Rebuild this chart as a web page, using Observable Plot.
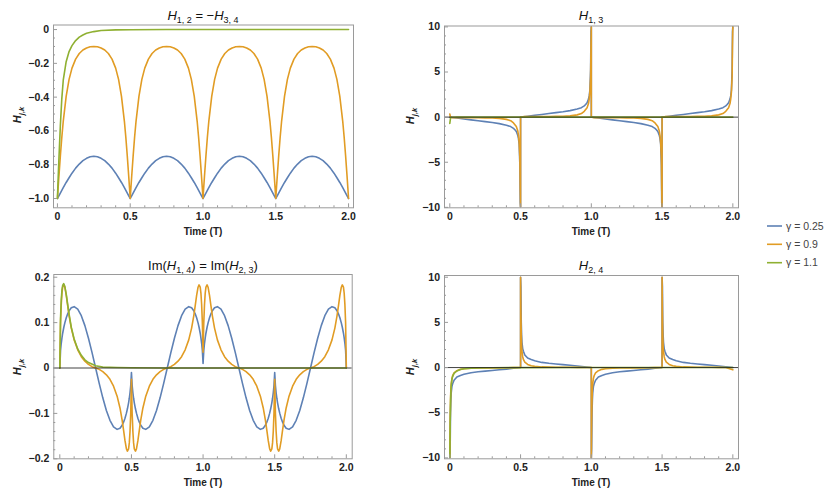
<!DOCTYPE html>
<html><head><meta charset="utf-8">
<script src="https://cdn.jsdelivr.net/npm/d3@7"></script>
<script src="https://cdn.jsdelivr.net/npm/@observablehq/plot@0.6"></script>
<style>
body{margin:0;background:#fff;}
#root{position:relative;width:830px;height:493px;overflow:hidden;font-family:"Liberation Sans",Arial,sans-serif;}
#root svg{position:absolute;}
</style></head><body><div id="root"></div>
<script>
// ---------- series legend ----------
const gammaLabels = ["γ = 0.25", "γ = 0.9", "γ = 1.1"];
const seriesColors = ["#5E81B5", "#E19C24", "#8FB032"];

// ---------- tick values & labels ----------
const xTicks = [0, 0.5, 1, 1.5, 2];
const xTickLabels = ["0", "0.5", "1.0", "1.5", "2.0"];
const xMinor = [0.1,0.2,0.3,0.4,0.6,0.7,0.8,0.9,1.1,1.2,1.3,1.4,1.6,1.7,1.8,1.9];
const y1Ticks = [0, -0.2, -0.4, -0.6, -0.8, -1];
const y1TickLabels = ["0", "−0.2", "−0.4", "−0.6", "−0.8", "−1.0"];
const y1Minor = [-0.05,-0.1,-0.15,-0.25,-0.3,-0.35,-0.45,-0.5,-0.55,-0.65,-0.7,-0.75,-0.85,-0.9,-0.95];
const y10Ticks = [-10, -5, 0, 5, 10];
const y10TickLabels = ["−10", "−5", "0", "5", "10"];
const y10Minor = [-9,-8,-7,-6,-4,-3,-2,-1,1,2,3,4,6,7,8,9];
const y3Ticks = [-0.2, -0.1, 0, 0.1, 0.2];
const y3TickLabels = ["−0.2", "−0.1", "0", "0.1", "0.2"];
const y3Minor = [-0.18,-0.16,-0.14,-0.12,-0.08,-0.06,-0.04,-0.02,0.02,0.04,0.06,0.08,0.12,0.14,0.16,0.18];

// ---------- panel 1 : H12 = -H34 ----------
const t1 = [0,.005,.01,.02,.03,.04,.06,.08,.1,.125,.15,.175,.2,.225,.25,.275,.3,.325,.35,.375,.4,.42,.44,.46,.47,.48,.49,.495,
.5,.505,.51,.52,.53,.54,.56,.58,.6,.625,.65,.675,.7,.725,.75,.775,.8,.825,.85,.875,.9,.92,.94,.96,.97,.98,.99,.995,
1,1.005,1.01,1.02,1.03,1.04,1.06,1.08,1.1,1.125,1.15,1.175,1.2,1.225,1.25,1.275,1.3,1.325,1.35,1.375,1.4,1.42,1.44,1.46,1.47,1.48,1.49,1.495,
1.5,1.505,1.51,1.52,1.53,1.54,1.56,1.58,1.6,1.625,1.65,1.675,1.7,1.725,1.75,1.775,1.8,1.825,1.85,1.875,1.9,1.92,1.94,1.96,1.97,1.98,1.99,1.995,
2];
const p1Blue = [-1,-.992,-.984,-.968,-.952,-.936,-.905,-.877,-.85,-.82,-.796,-.776,-.762,-.753,-.75,-.753,-.762,-.776,-.796,-.82,-.85,-.877,-.905,-.936,-.952,-.968,-.984,-.992,
-1,-.992,-.984,-.968,-.952,-.936,-.905,-.877,-.85,-.82,-.796,-.776,-.762,-.753,-.75,-.753,-.762,-.776,-.796,-.82,-.85,-.877,-.905,-.936,-.952,-.968,-.984,-.992,
-1,-.992,-.984,-.968,-.952,-.936,-.905,-.877,-.85,-.82,-.796,-.776,-.762,-.753,-.75,-.753,-.762,-.776,-.796,-.82,-.85,-.877,-.905,-.936,-.952,-.968,-.984,-.992,
-1,-.992,-.984,-.968,-.952,-.936,-.905,-.877,-.85,-.82,-.796,-.776,-.762,-.753,-.75,-.753,-.762,-.776,-.796,-.82,-.85,-.877,-.905,-.936,-.952,-.968,-.984,-.992,
-1];
const p1Orange = [-1,-.935,-.871,-.75,-.639,-.543,-.395,-.295,-.228,-.175,-.142,-.121,-.109,-.102,-.1,-.102,-.109,-.121,-.142,-.175,-.228,-.295,-.395,-.543,-.639,-.75,-.871,-.935,
-1,-.935,-.871,-.75,-.639,-.543,-.395,-.295,-.228,-.175,-.142,-.121,-.109,-.102,-.1,-.102,-.109,-.121,-.142,-.175,-.228,-.295,-.395,-.543,-.639,-.75,-.871,-.935,
-1,-.935,-.871,-.75,-.639,-.543,-.395,-.295,-.228,-.175,-.142,-.121,-.109,-.102,-.1,-.102,-.109,-.121,-.142,-.175,-.228,-.295,-.395,-.543,-.639,-.75,-.871,-.935,
-1,-.935,-.871,-.75,-.639,-.543,-.395,-.295,-.228,-.175,-.142,-.121,-.109,-.102,-.1,-.102,-.109,-.121,-.142,-.175,-.228,-.295,-.395,-.543,-.639,-.75,-.871,-.935,
-1];
const t1Green = [0,.005,.01,.02,.03,.04,.06,.08,.1,.125,.15,.175,.2,.25,.3,.4,.5,.75,1,1.5,2];
const p1Green = [-1,-.88,-.77,-.57,-.41,-.3,-.19,-.13,-.095,-.065,-.045,-.032,-.022,-.012,-.006,-.002,-.001,0,0,0,0];

// ---------- panel 2 : H13 ----------
const t2 = [0,.005,.01,.02,.05,.1,.15,.2,.25,.3,.35,.4,.43,.45,.46,.47,.48,.485,.49,.495,.4975,.5,
.5,.505,.51,.52,.55,.6,.65,.7,.75,.8,.85,.9,.93,.95,.96,.97,.98,.985,.99,.995,.9975,1,
1,1.005,1.01,1.02,1.05,1.1,1.15,1.2,1.25,1.3,1.35,1.4,1.43,1.45,1.46,1.47,1.48,1.485,1.49,1.495,1.4975,1.5,
1.5,1.505,1.51,1.52,1.55,1.6,1.65,1.7,1.75,1.8,1.85,1.9,1.93,1.95,1.96,1.97,1.98,1.985,1.99,1.995,1.9975,2];
const p2Blue = [0,-.01,-.02,-.04,-.1,-.2,-.3,-.4,-.5,-.6,-.72,-.9,-1.05,-1.25,-1.4,-1.6,-2,-2.35,-3,-5.3,-9.5,-10,
0,.01,.02,.04,.1,.2,.3,.4,.5,.6,.72,.9,1.05,1.25,1.4,1.6,2,2.35,3,5.3,9.5,10,
0,-.01,-.02,-.04,-.1,-.2,-.3,-.4,-.5,-.6,-.72,-.9,-1.05,-1.25,-1.4,-1.6,-2,-2.35,-3,-5.3,-9.5,-10,
0,.01,.02,.04,.1,.2,.3,.4,.5,.6,.72,.9,1.05,1.25,1.4,1.6,2,2.35,3,5.3,9.5,10];
const p2Orange = [.35,-.02,-.04,-.05,-.06,-.06,-.06,-.07,-.08,-.1,-.14,-.25,-.4,-.65,-.85,-1.05,-1.5,-2,-2.8,-4.5,-8,-10,
0,.02,.04,.05,.06,.06,.06,.07,.08,.1,.14,.25,.4,.65,.85,1.05,1.5,2,2.8,4.5,8,10,
0,-.02,-.04,-.05,-.06,-.06,-.06,-.07,-.08,-.1,-.14,-.25,-.4,-.65,-.85,-1.05,-1.5,-2,-2.8,-4.5,-8,-10,
0,.02,.04,.05,.06,.06,.06,.07,.08,.1,.14,.25,.4,.65,.85,1.05,1.5,2,2.8,4.5,8,10];
const t2Green = [0,.005,.01,.02,.05,.1,2];
const p2Green = [-.7,-.1,-.03,-.01,0,0,0];

// ---------- panel 3 : Im(H14) = Im(H23) ----------
const t3 = [0,.005,.01,.015,.02,.028,.035,.045,.055,.065,.08,.1,.125,.15,.175,.2,.225,.25,.275,.3,.325,.35,.375,.4,.42,.435,.445,.455,.465,.472,.48,.485,.49,.495,
.5,.505,.51,.515,.52,.528,.535,.545,.555,.565,.58,.6,.625,.65,.675,.7,.725,.75,.775,.8,.825,.85,.875,.9,.92,.935,.945,.955,.965,.972,.98,.985,.99,.995,
1,1.005,1.01,1.015,1.02,1.028,1.035,1.045,1.055,1.065,1.08,1.1,1.125,1.15,1.175,1.2,1.225,1.25,1.275,1.3,1.325,1.35,1.375,1.4,1.42,1.435,1.445,1.455,1.465,1.472,1.48,1.485,1.49,1.495,
1.5,1.505,1.51,1.515,1.52,1.528,1.535,1.545,1.555,1.565,1.58,1.6,1.625,1.65,1.675,1.7,1.725,1.75,1.775,1.8,1.825,1.85,1.875,1.9,1.92,1.935,1.945,1.955,1.965,1.972,1.98,1.985,1.99,1.995,
2];
const p3Blue = [0,.0386,.0545,.0666,.0766,.0898,.0994,.1106,.1194,.1261,.1326,.1352,.1296,.1153,.0934,.0657,.0339,0,-.0339,-.0657,-.0934,-.1153,-.1296,-.1352,-.1326,-.1261,-.1194,-.1106,-.0994,-.0898,-.0766,-.0666,-.0545,-.0386,
-.01,-.0386,-.0545,-.0666,-.0766,-.0898,-.0994,-.1106,-.1194,-.1261,-.1326,-.1352,-.1296,-.1153,-.0934,-.0657,-.0339,0,.0339,.0657,.0934,.1153,.1296,.1352,.1326,.1261,.1194,.1106,.0994,.0898,.0766,.0666,.0545,.0386,
.01,.0386,.0545,.0666,.0766,.0898,.0994,.1106,.1194,.1261,.1326,.1352,.1296,.1153,.0934,.0657,.0339,0,-.0339,-.0657,-.0934,-.1153,-.1296,-.1352,-.1326,-.1261,-.1194,-.1106,-.0994,-.0898,-.0766,-.0666,-.0545,-.0386,
-.01,-.0386,-.0545,-.0666,-.0766,-.0898,-.0994,-.1106,-.1194,-.1261,-.1326,-.1352,-.1296,-.1153,-.0934,-.0657,-.0339,0,.0339,.0657,.0934,.1153,.1296,.1352,.1326,.1261,.1194,.1106,.0994,.0898,.0766,.0666,.0545,.0386,
0];
const p3Orange = [0,.1,.14,.165,.178,.183,.178,.16,.137,.115,.088,.062,.04,.025,.015,.008,.003,0,-.003,-.008,-.015,-.025,-.04,-.062,-.088,-.115,-.137,-.16,-.178,-.183,-.178,-.165,-.14,-.1,
-.025,-.1,-.14,-.165,-.178,-.183,-.178,-.16,-.137,-.115,-.088,-.062,-.04,-.025,-.015,-.008,-.003,0,.003,.008,.015,.025,.04,.062,.088,.115,.137,.16,.178,.183,.178,.165,.14,.1,
.035,.1,.14,.165,.178,.183,.178,.16,.137,.115,.088,.062,.04,.025,.015,.008,.003,0,-.003,-.008,-.015,-.025,-.04,-.062,-.088,-.115,-.137,-.16,-.178,-.183,-.178,-.165,-.14,-.1,
-.025,-.1,-.14,-.165,-.178,-.183,-.178,-.16,-.137,-.115,-.088,-.062,-.04,-.025,-.015,-.008,-.003,0,.003,.008,.015,.025,.04,.062,.088,.115,.137,.16,.178,.183,.178,.165,.14,.1,
0];
const t3Green = [0,.005,.01,.015,.02,.027,.035,.045,.055,.065,.08,.1,.125,.15,.175,.2,.25,.3,.4,.5,.75,1,1.5,2];
const p3Green = [0,.11,.15,.172,.182,.186,.18,.162,.14,.118,.09,.064,.042,.028,.018,.012,.005,.002,.001,.0005,0,0,0,0];

// ---------- panel 4 : H24 ----------
const t4 = [0,.0025,.005,.0075,.01,.015,.02,.03,.05,.075,.1,.15,.2,.25,.3,.35,.4,.45,.5,
.5,.5025,.505,.5075,.51,.515,.52,.53,.55,.575,.6,.65,.7,.75,.8,.85,.9,.95,1,
1,1.0025,1.005,1.0075,1.01,1.015,1.02,1.03,1.05,1.075,1.1,1.15,1.2,1.25,1.3,1.35,1.4,1.45,1.5,
1.5,1.5025,1.505,1.5075,1.51,1.515,1.52,1.53,1.55,1.575,1.6,1.65,1.7,1.75,1.8,1.85,1.9,1.95,2];
const p4Blue = [-10,-9,-5,-3.6,-2.8,-2.1,-1.8,-1.4,-1.05,-.88,-.75,-.57,-.47,-.4,-.32,-.25,-.17,-.08,0,
10,9,5,3.6,2.8,2.1,1.8,1.4,1.05,.88,.75,.57,.47,.4,.32,.25,.17,.08,0,
-10,-9,-5,-3.6,-2.8,-2.1,-1.8,-1.4,-1.05,-.88,-.75,-.57,-.47,-.4,-.32,-.25,-.17,-.08,0,
10,9,5,3.6,2.8,2.1,1.8,1.4,1.05,.88,.75,.57,.47,.4,.32,.25,.17,.08,0];
const p4Orange = [-10,-6,-3.6,-2.3,-1.8,-1.2,-.9,-.6,-.35,-.2,-.13,-.07,-.05,-.04,-.03,-.03,-.02,-.01,0,
10,6,3.6,2.3,1.8,1.2,.9,.6,.35,.2,.13,.07,.05,.04,.03,.03,.02,.01,0,
-10,-6,-3.6,-2.3,-1.8,-1.2,-.9,-.6,-.35,-.2,-.13,-.07,-.05,-.04,-.03,-.03,-.02,-.01,0,
10,6,3.6,2.3,1.8,1.2,.9,.6,.35,.2,.13,.07,.05,.04,.03,.03,.02,.01,-.25];
const t4Green = [0,.0025,.005,.0075,.01,.015,.02,.03,.05,.075,.1,.15,.2,.3,.5,1,2];
const p4Green = [-10,-6.5,-4,-2.6,-2,-1.3,-1,-.65,-.38,-.22,-.14,-.07,-.04,-.015,-.005,0,0];

// ---------- drawing ----------
const root = document.getElementById("root");
const GRAY = "#9a9a9a";
const FONT = "'Liberation Sans', Arial, sans-serif";

function rows(t, v) { return t.map((x, i) => ({t: x, v: v[i]})); }

function panel({box: [bx, by, bw, bh], frame: [L, T, R, B], xDomain, yDomain, series, yTicks, yTickLabels, yMinor, zero}) {
  const fw = R - L, fh = B - T;
  const xLab = new Map(xTicks.map((d, i) => [d, xTickLabels[i]]));
  const yLab = new Map(yTicks.map((d, i) => [d, yTickLabels[i]]));
  const marks = [];
  series.forEach(([t, v, c]) => marks.push(Plot.line(rows(t, v), {x: "t", y: "v", stroke: c, strokeWidth: 1.6, clip: true})));
  if (zero) marks.push(Plot.ruleY([0], {stroke: "#222", strokeWidth: 1, strokeOpacity: 0.85}));
  marks.push(Plot.frame({stroke: GRAY, strokeWidth: 1}));
  marks.push(Plot.tickX(xMinor, {x: d => d, stroke: GRAY, insetTop: fh - 2}));
  marks.push(Plot.tickX(xTicks, {x: d => d, stroke: GRAY, insetTop: fh - 4}));
  marks.push(Plot.tickY(yMinor, {y: d => d, stroke: GRAY, insetRight: fw - 2}));
  marks.push(Plot.tickY(yTicks, {y: d => d, stroke: GRAY, insetRight: fw - 4}));
  marks.push(Plot.axisX(xTicks, {tickSize: 0, tickPadding: 4.5, tickFormat: d => xLab.get(d), label: null, fontWeight: "bold", fill: "#222", fontSize: 10.5}));
  marks.push(Plot.axisY(yTicks, {tickSize: 0, tickPadding: 4.5, tickFormat: d => yLab.get(d), label: null, fontWeight: "bold", fill: "#222", fontSize: 10.5}));
  const svg = Plot.plot({
    width: bw, height: bh,
    marginLeft: L - bx, marginRight: bx + bw - R, marginTop: T - by, marginBottom: by + bh - B,
    x: {domain: xDomain, label: null},
    y: {domain: yDomain, label: null},
    style: {background: "transparent", fontFamily: FONT, overflow: "visible"},
    marks
  });
  svg.style.left = bx + "px";
  svg.style.top = by + "px";
  svg.style.maxWidth = "none";
  root.appendChild(svg);
}

const [cB, cO, cG] = seriesColors;
panel({box: [0, 0, 370, 245], frame: [53, 24.5, 353, 207.3], xDomain: [-0.027, 2.034], yDomain: [-1.055, 0.027],
  series: [[t1, p1Blue, cB], [t1, p1Orange, cO], [t1Green, p1Green, cG]],
  yTicks: y1Ticks, yTickLabels: y1TickLabels, yMinor: y1Minor, zero: false});
panel({box: [380, 0, 380, 245], frame: [444, 25.5, 738, 207.3], xDomain: [-0.0375, 2.04], yDomain: [-10.05, 10.1],
  series: [[t2, p2Blue, cB], [t2, p2Orange, cO], [t2Green, p2Green, cG]],
  yTicks: y10Ticks, yTickLabels: y10TickLabels, yMinor: y10Minor, zero: true});
panel({box: [0, 250, 370, 243], frame: [53.3, 274, 351.7, 458.3], xDomain: [-0.042, 2.041], yDomain: [-0.2, 0.206],
  series: [[t3, p3Blue, cB], [t3, p3Orange, cO], [t3Green, p3Green, cG]],
  yTicks: y3Ticks, yTickLabels: y3TickLabels, yMinor: y3Minor, zero: true});
panel({box: [380, 250, 380, 243], frame: [444, 275, 738, 458.3], xDomain: [-0.0375, 2.04], yDomain: [-10.1, 10.19],
  series: [[t4, p4Blue, cB], [t4, p4Orange, cO], [t4Green, p4Green, cG]],
  yTicks: y10Ticks, yTickLabels: y10TickLabels, yMinor: y10Minor, zero: true});

// ---------- text overlay (titles, axis labels, legend) ----------
const NS = "http://www.w3.org/2000/svg";
const ov = document.createElementNS(NS, "svg");
ov.setAttribute("width", 830); ov.setAttribute("height", 493);
ov.style.left = "0px"; ov.style.top = "0px";
ov.setAttribute("font-family", FONT);
root.appendChild(ov);

function H(sub) { return `<tspan font-style="italic">H</tspan><tspan font-size="9" dy="3">${sub}</tspan><tspan dy="-3">`; }
const titles = [
  [203, 20, `${H("1, 2")} = −</tspan>${H("3, 4")}</tspan>`],
  [591, 20, `${H("1, 3")}</tspan>`],
  [203, 270, `Im(${H("1, 4")})</tspan> = Im(${H("2, 3")})</tspan>`],
  [591, 270, `${H("2, 4")}</tspan>`]
];
let html = "";
for (const [x, y, s] of titles) html += `<text x="${x}" y="${y}" text-anchor="middle" font-size="13" fill="#111">${s}</text>`;
for (const [x, y] of [[203, 235], [591, 235], [203, 485.5], [591, 486]])
  html += `<text x="${x}" y="${y}" text-anchor="middle" font-size="10" font-weight="bold" fill="#222">Time (T)</text>`;
for (const [x, y] of [[21, 115], [414, 116], [21, 367], [414, 367]])
  html += `<text transform="translate(${x},${y}) rotate(-90)" text-anchor="middle" font-size="11" font-weight="bold" font-style="italic" fill="#222">H<tspan font-size="7.5" dy="2.5">j,k</tspan></text>`;
const legendY = [226, 244.3, 262.7];
gammaLabels.forEach((lab, i) => {
  html += `<line x1="767" x2="782" y1="${legendY[i]}" y2="${legendY[i]}" stroke="${seriesColors[i]}" stroke-width="1.6"/>`;
  html += `<text x="786" y="${legendY[i] + 3.6}" font-size="10.5" fill="#444">${lab}</text>`;
});
ov.innerHTML = html;
</script>
</body></html>
